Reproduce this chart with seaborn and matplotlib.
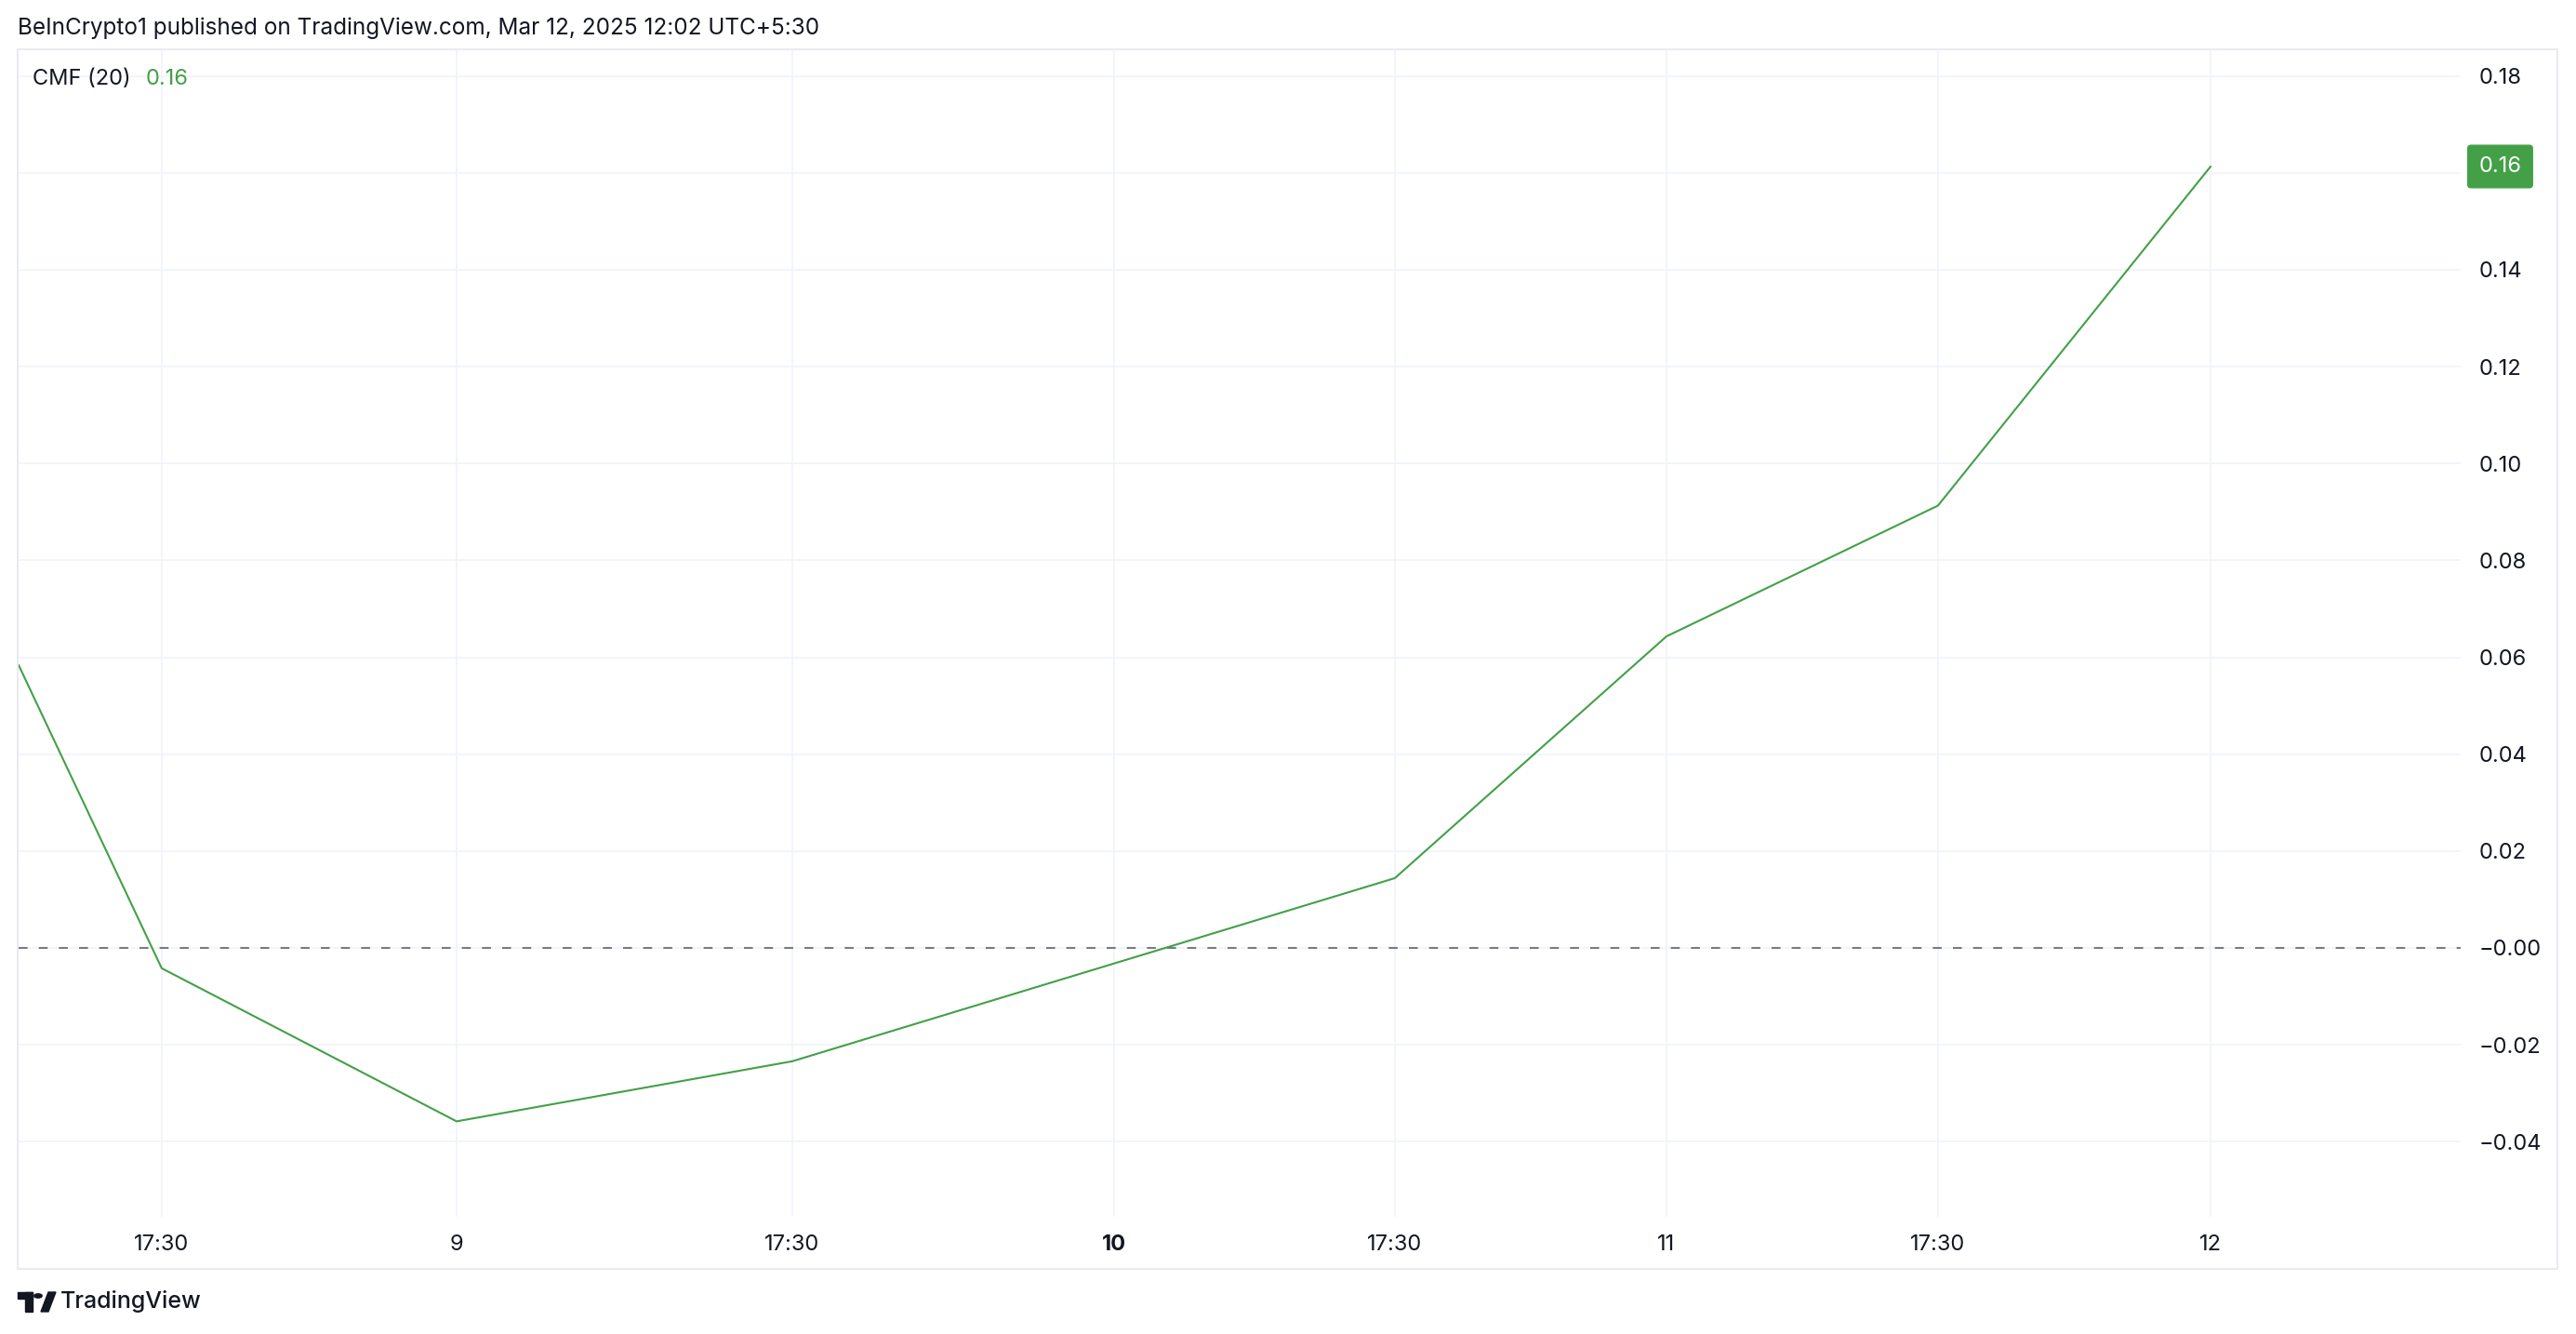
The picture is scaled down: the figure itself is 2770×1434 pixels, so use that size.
import numpy as np
import pandas as pd
import seaborn as sns
import matplotlib.pyplot as plt
from matplotlib.patches import Rectangle, Circle, Polygon

# positions on the (bar based) time axis, 9 = 0, one slot = 17:30 -> next day
tick_pos = [-1.086, 0.0, 1.236, 2.421, 3.455, 4.455, 5.455, 6.459]
tick_labels = ["17:30", "9", "17:30", "10", "17:30", "11", "17:30", "12"]

cmf_pos = [-1.613, -1.086, 0.0, 1.236, 3.455, 4.455, 5.455, 6.459]
cmf_val = [0.0584, -0.0042, -0.0358, -0.0234, 0.0144, 0.0643, 0.0913, 0.1613]

y_ticks = [-0.04, -0.02, 0.0, 0.02, 0.04, 0.06, 0.08, 0.10, 0.12, 0.14, 0.16, 0.18]
y_labels = ["\u22120.04", "\u22120.02", "\u22120.00", "0.02", "0.04", "0.06", "0.08",
            "0.10", "0.12", "0.14", "0.16", "0.18"]

df = pd.DataFrame({"pos": cmf_pos, "cmf": cmf_val})

W, H = 2770, 1434
GREEN = "#43a047"
TXT = "#131722"

sns.set_style("white")
plt.rcParams["font.family"] = ["Inter", "DejaVu Sans"]

fig = plt.figure(figsize=(W / 100, H / 100), dpi=100)
ax = fig.add_axes([20 / W, 1 - 1308 / H, (2646 - 20) / W, (1308 - 54) / H])

sns.lineplot(data=df, x="pos", y="cmf", color=GREEN, linewidth=1.5, ax=ax)
ax.axhline(0, color="#787b86", linewidth=1.5, linestyle=(0, (4.6, 5.8)), zorder=1)

last = cmf_val[-1]
ax.set_xlim(-1.613, 7.380)
ax.set_ylim(-0.0555, 0.1853)
ax.set_xticks(tick_pos)
ax.set_xticklabels(tick_labels)
ax.set_yticks(y_ticks)
# the price-scale badge hides the tick label it sits on
ax.set_yticklabels(["" if abs(t - round(last, 2)) < 1e-9 else l for t, l in zip(y_ticks, y_labels)])
ax.yaxis.tick_right()
ax.tick_params(axis="x", length=0, pad=14, labelsize=17, labelcolor=TXT)
ax.tick_params(axis="y", length=0, pad=14, labelsize=17, labelcolor=TXT)
for lab in ax.get_xticklabels():
    if lab.get_text() == "10":
        lab.set_fontweight("bold")
ax.grid(True, color="#f0f3fa", linewidth=1.2)
ax.set_axisbelow(True)
for s in ax.spines.values():
    s.set_visible(False)
ax.set_xlabel("")
ax.set_ylabel("")

# last value badge on the price scale
ax.annotate(f"{last:.2f}", xy=(1.0, last), xycoords=ax.get_yaxis_transform(),
            xytext=(14, 0), textcoords="offset points", ha="left", va="center",
            fontsize=17, color="white", annotation_clip=False, zorder=6,
            bbox=dict(boxstyle="round,pad=0.5,rounding_size=0.15", fc=GREEN, ec=GREEN))

# outer frame
fig.patches.append(Rectangle((19 / W, 1 - 1364 / H), (2750 - 19) / W, (1364 - 53) / H,
                             transform=fig.transFigure, fill=False, ec="#e9ebf0", lw=1.5))

fig.text(19 / W, 1 - 30 / H, "BeInCrypto1 published on TradingView.com, Mar 12, 2025 12:02 UTC+5:30",
         fontsize=17.5, color=TXT, va="center", ha="left")
fig.text(35 / W, 1 - 85 / H, "CMF (20)", fontsize=17, color=TXT, va="center", ha="left")
fig.text(157 / W, 1 - 85 / H, f"{last:.2f}", fontsize=17, color=GREEN, va="center", ha="left")

# TradingView logo
def px(x, y):
    return (x / W, 1 - y / H)

fig.patches.append(Rectangle(px(19, 1396), 16 / W, 7 / H, transform=fig.transFigure, color=TXT))
fig.patches.append(Rectangle(px(27, 1410), 8 / W, 21 / H, transform=fig.transFigure, color=TXT))
fig.patches.append(Circle(px(41, 1393), 4.2 / W, transform=fig.transFigure, color=TXT))
fig.patches.append(Polygon([px(44, 1410), px(52, 1389), px(60, 1389), px(52, 1410)],
                           transform=fig.transFigure, color=TXT))
fig.text(65 / W, 1 - 1399 / H, "TradingView", fontsize=18, color=TXT, va="center", ha="left",
         fontweight="medium")

fig.savefig("out.png", dpi=100, facecolor="white")
